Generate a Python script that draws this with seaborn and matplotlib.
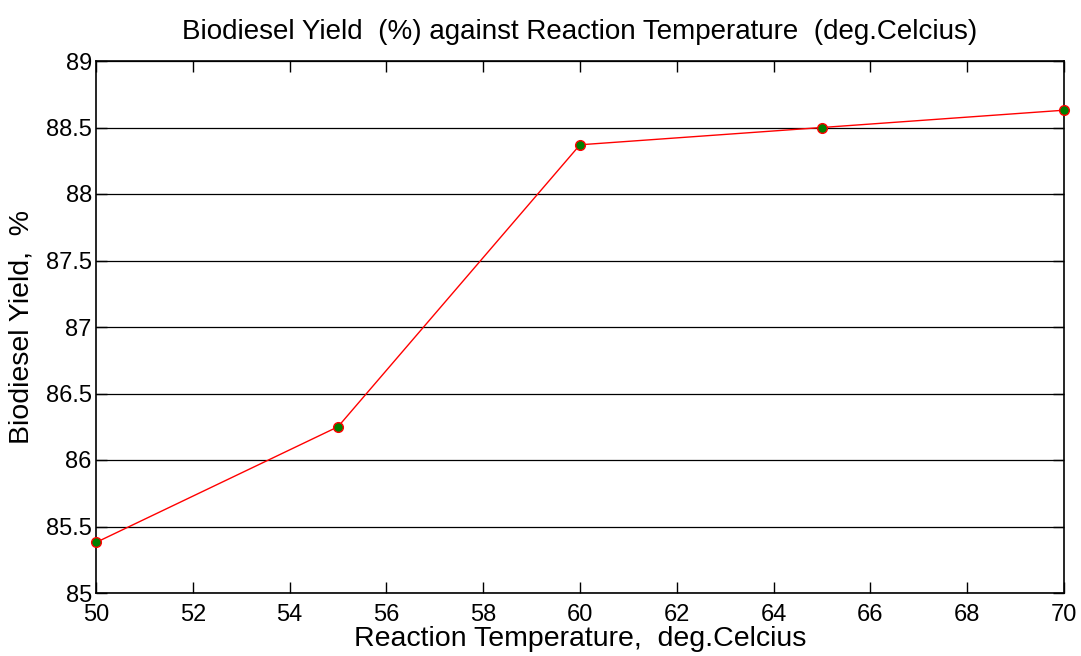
import numpy as np
import pandas as pd
import matplotlib
matplotlib.use("Agg")
import matplotlib.pyplot as plt
import seaborn as sns

# Data
temperature = [50, 55, 60, 65, 70]
yield_pct = [85.38, 86.25, 88.37, 88.50, 88.63]
x_ticks = [50, 52, 54, 56, 58, 60, 62, 64, 66, 68, 70]
y_ticks = [85, 85.5, 86, 86.5, 87, 87.5, 88, 88.5, 89]
y_tick_labels = ["85", "85.5", "86", "86.5", "87", "87.5", "88", "88.5", "89"]

df = pd.DataFrame({"Temperature": temperature, "Yield": yield_pct})

sns.set_style("white")
plt.rcParams["font.family"] = ["Liberation Sans", "DejaVu Sans"]
plt.rcParams["text.color"] = "black"
plt.rcParams["axes.labelcolor"] = "black"
plt.rcParams["xtick.color"] = "black"
plt.rcParams["ytick.color"] = "black"

fig = plt.figure(figsize=(10.81, 6.56), dpi=100)
ax = fig.add_axes([96 / 1081, 1 - 593 / 656, (1064 - 96) / 1081, (593 - 61) / 656])

sns.lineplot(data=df, x="Temperature", y="Yield", ax=ax, color="red", linewidth=1,
             marker="o", markersize=7, markerfacecolor="green", markeredgecolor="red",
             markeredgewidth=1, clip_on=False, zorder=3)

ax.set_xlim(50, 70)
ax.set_ylim(85, 89)
ax.set_xticks(x_ticks)
ax.set_yticks(y_ticks)
ax.set_yticklabels(y_tick_labels)
ax.yaxis.grid(True, color="black", linewidth=0.9)
ax.xaxis.grid(False)
ax.set_axisbelow(True)

for side in ["left", "right", "top", "bottom"]:
    ax.spines[side].set_visible(True)
    ax.spines[side].set_color("black")
    ax.spines[side].set_linewidth(1.2)

ax.tick_params(axis="both", direction="in", length=8, width=1, labelsize=17,
               top=True, right=True, bottom=True, left=True, color="black")
ax.tick_params(axis="x", pad=8)
ax.tick_params(axis="y", pad=3)

ax.set_title("Biodiesel Yield  (%) against Reaction Temperature  (deg.Celcius)",
             fontsize=20, pad=16)
ax.set_xlabel("Reaction Temperature,  deg.Celcius", fontsize=20.5, labelpad=0)
ax.set_ylabel("Biodiesel Yield,  %", fontsize=20.5, labelpad=8)

plt.savefig("out.png", dpi=100)
